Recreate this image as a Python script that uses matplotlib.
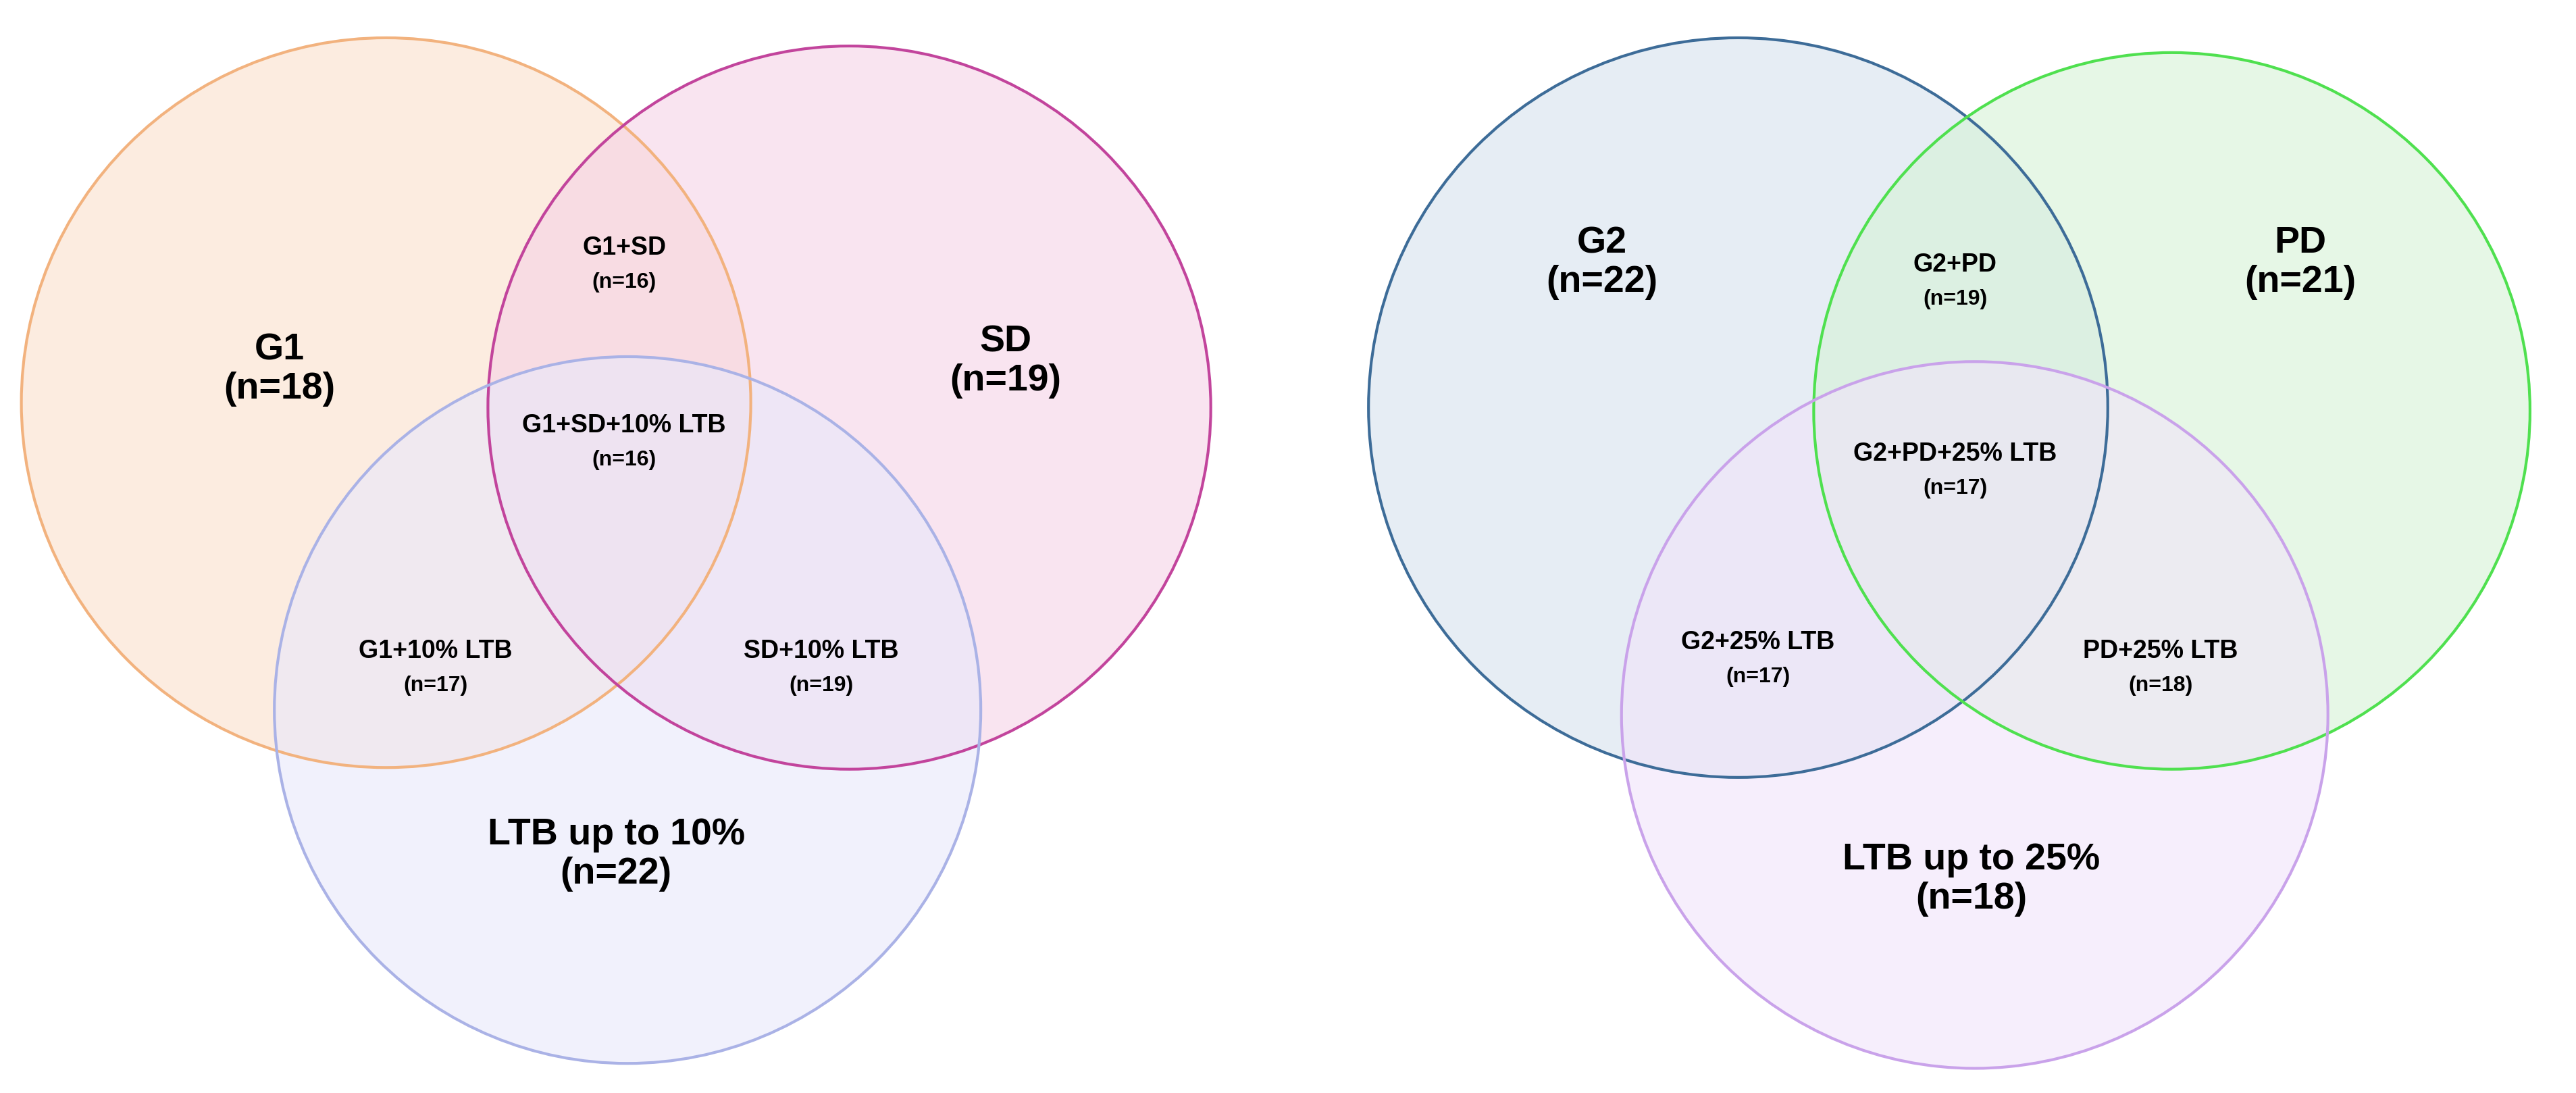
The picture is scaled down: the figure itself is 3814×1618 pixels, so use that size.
import matplotlib; matplotlib.use("Agg")
import matplotlib.pyplot as plt
from matplotlib.patches import Circle

plt.rcParams["font.family"] = ["Liberation Sans", "DejaVu Sans"]

# circles: (center x, center y, radius) in reference-image units (1568x665 view)
left_sets = ["G1", "SD", "LTB up to 10%"]
left_centers = [(235, 245), (517, 248), (382, 432)]
left_radii = [222, 220, 215]
left_edges = ["#f2b27e", "#c2449c", "#aab2e6"]
left_fills = ["#fbe0cc", "#f6d2e6", "#e8e8fb"]
left_labels = [("G1\n(n=18)", 170, 225), ("SD\n(n=19)", 612, 220), ("LTB up to 10%\n(n=22)", 375, 520)]
left_small = [("G1+SD\n(n=16)", 380, 160), ("G1+SD+10% LTB\n(n=16)", 380, 268),
              ("G1+10% LTB\n(n=17)", 265, 405), ("SD+10% LTB\n(n=19)", 500, 405)]

right_sets = ["G2", "PD", "LTB up to 25%"]
right_centers = [(1058, 248), (1322, 250), (1202, 435)]
right_radii = [225, 218, 215]
right_edges = ["#3d6c98", "#4fe04f", "#c9a2ea"]
right_fills = ["#d6e1ed", "#d6f3d6", "#f1e4fa"]
right_labels = [("G2\n(n=22)", 975, 160), ("PD\n(n=21)", 1400, 160), ("LTB up to 25%\n(n=18)", 1200, 535)]
right_small = [("G2+PD\n(n=19)", 1190, 170), ("G2+PD+25% LTB\n(n=17)", 1190, 285),
               ("G2+25% LTB\n(n=17)", 1070, 400), ("PD+25% LTB\n(n=18)", 1315, 405)]

fig = plt.figure(figsize=(38.14, 16.18), dpi=100)
ax = fig.add_axes([0, 0, 1, 1])
ax.set_xlim(0, 1568); ax.set_ylim(665, 0); ax.axis("off")

for centers, radii, edges, fills in [(left_centers, left_radii, left_edges, left_fills),
                                     (right_centers, right_radii, right_edges, right_fills)]:
    for c, r, fc in zip(centers, radii, fills):
        ax.add_patch(Circle(c, r, facecolor=fc, edgecolor="none", alpha=0.6))
    for c, r, ec in zip(centers, radii, edges):
        ax.add_patch(Circle(c, r, facecolor="none", edgecolor=ec, lw=3))

for t, x, y in left_labels + right_labels:
    ax.text(x, y, t, ha="center", va="center", fontsize=40, fontweight="bold", linespacing=1.15)
for t, x, y in left_small + right_small:
    head, n = t.split("\n")
    ax.text(x, y - 9, head, ha="center", va="center", fontsize=27, fontweight="bold")
    ax.text(x, y + 12, n, ha="center", va="center", fontsize=23, fontweight="bold")

fig.savefig("out.png", dpi=100)
